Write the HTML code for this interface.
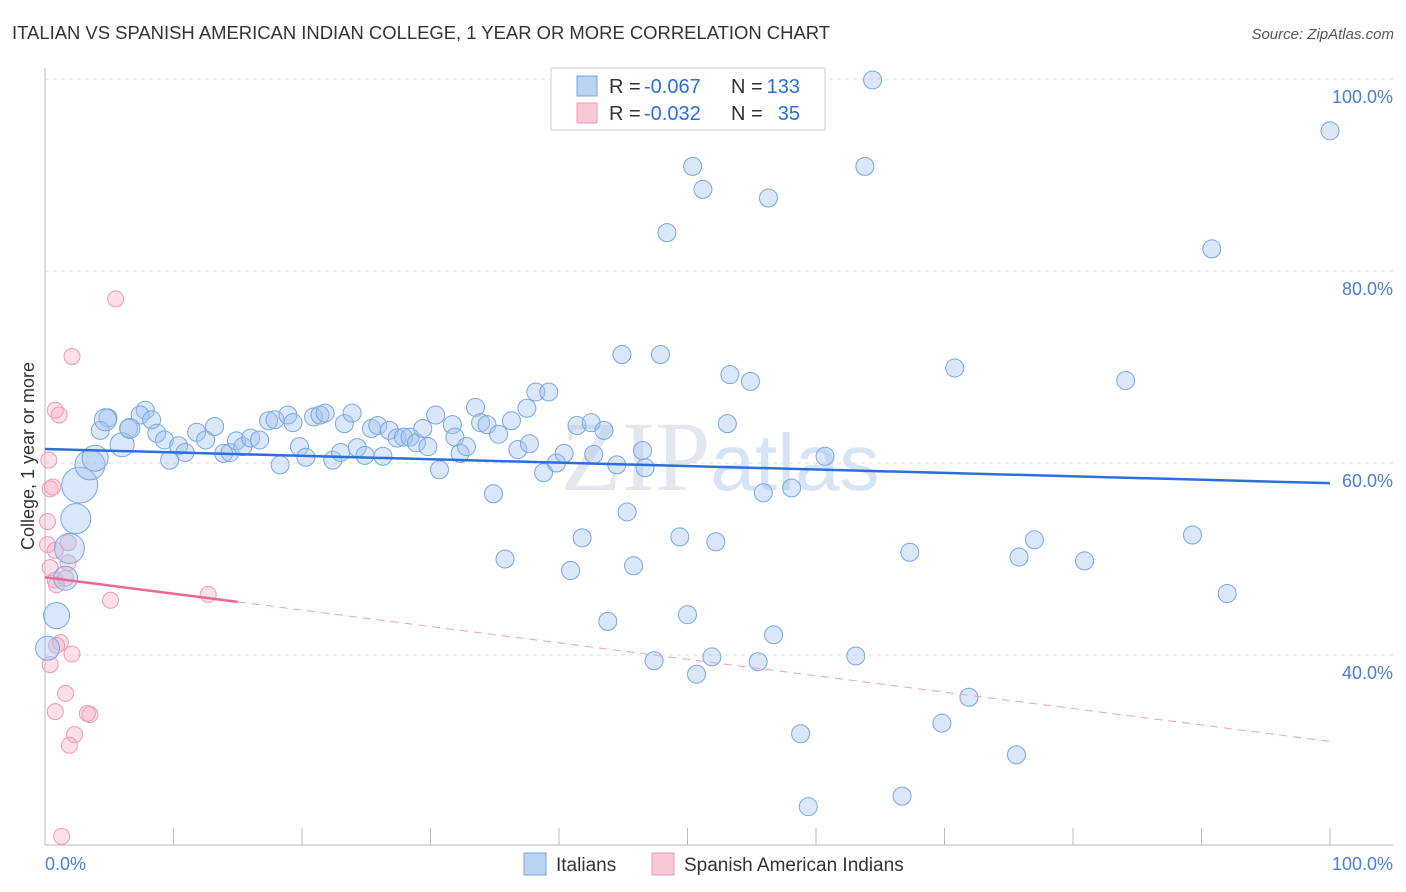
<!DOCTYPE html>
<html><head><meta charset="utf-8"><style>
body{margin:0;background:#fff;font-family:"Liberation Sans",sans-serif}
svg{display:block}
</style></head><body>
<svg id="chart" width="1406" height="892" xmlns="http://www.w3.org/2000/svg">
<text x="12" y="39" font-size="18" fill="#333" textLength="818" lengthAdjust="spacingAndGlyphs">ITALIAN VS SPANISH AMERICAN INDIAN COLLEGE, 1 YEAR OR MORE CORRELATION CHART</text>
<text x="1394" y="39" font-size="15" fill="#555" font-style="italic" text-anchor="end">Source: ZipAtlas.com</text>
<text x="720" y="490" font-size="100" fill="#e4e8ee" text-anchor="middle" font-family="Liberation Serif,serif">ZIP<tspan fill="#d6e4f6" font-family="Liberation Sans,sans-serif" font-size="80">atlas</tspan></text>
<g id="grid"></g>
<g id="marks"></g>
<text transform="translate(34,456) rotate(-90)" font-size="18" fill="#333" text-anchor="middle">College, 1 year or more</text>
<text x="45" y="870" font-size="18" fill="#4a7fd4">0.0%</text>
<text x="1393" y="870" font-size="18" fill="#4a7fd4" text-anchor="end">100.0%</text>
<g>
<rect x="551" y="68" width="274" height="62" fill="#fff" stroke="#ccc"/>
<rect x="577" y="76" width="20" height="20" fill="#b9d3f3" stroke="#7aa6e0"/>
<rect x="577" y="103" width="20" height="20" fill="#f9c8d6" stroke="#ee9ab5"/>
<text x="609" y="93" font-size="20" fill="#333">R =</text>
<text x="644" y="93" font-size="20" fill="#2a6fdb">-0.067</text>
<text x="731" y="93" font-size="20" fill="#333">N =</text>
<text x="800" y="93" font-size="20" fill="#2a6fdb" text-anchor="end">133</text>
<text x="609" y="120" font-size="20" fill="#333">R =</text>
<text x="644" y="120" font-size="20" fill="#2a6fdb">-0.032</text>
<text x="731" y="120" font-size="20" fill="#333">N =</text>
<text x="800" y="120" font-size="20" fill="#2a6fdb" text-anchor="end">35</text>
</g>
<g>
<rect x="524" y="853" width="22" height="22" fill="#b9d3f3" stroke="#7aa6e0"/>
<text x="556" y="871" font-size="19" fill="#333">Italians</text>
<rect x="652" y="853" width="22" height="22" fill="#f9c8d6" stroke="#ee9ab5"/>
<text x="684" y="871" font-size="19" fill="#333">Spanish American Indians</text>
</g>
</svg>
<script>
const blueX=[64.4,100,54.5,50.4,51.2,56.3,63.8,48.4,90.8,44.9,47.9,53.3,54.9,70.8,84.1,38.2,39.2,33.5,37.5,4.9,7.8,7.4,8.3,6.5,4.3,8.7,9.3,10.4,10.9,9.7,11.8,12.5,13.2,13.9,14.4,14.9,15.4,16.0,16.7,17.4,17.9,18.3,18.9,19.3,19.8,20.3,20.9,21.4,21.8,22.4,23.0,23.3,23.9,24.3,24.9,25.4,25.9,26.3,26.8,27.4,27.9,28.4,28.9,29.4,29.8,30.4,30.7,31.7,31.9,32.3,32.8,33.9,34.4,34.9,35.3,35.8,36.3,36.8,37.7,38.8,39.8,40.4,40.9,41.4,41.8,42.5,42.7,43.5,43.8,44.5,45.3,45.8,46.5,46.7,47.4,49.4,50.0,50.7,51.9,52.2,53.1,55.5,55.9,56.7,58.1,58.8,59.4,60.7,63.1,66.7,67.3,69.8,71.9,75.6,75.8,77.0,80.9,89.3,92.0,2.7,2.4,3.5,1.9,0.9,1.6,0.2,3.9,6.0,4.7,6.6];
const blueY=[99.9,94.6,97.1,90.9,88.5,87.6,90.9,84.0,82.3,71.3,71.3,69.2,68.5,69.9,68.6,67.4,67.4,65.8,65.7,64.7,65.5,65.0,64.5,63.6,63.4,63.1,62.4,61.8,61.1,60.3,63.2,62.4,63.8,61.0,61.1,62.3,61.7,62.6,62.4,64.4,64.5,59.8,65.0,64.2,61.7,60.6,64.8,65.0,65.2,60.3,61.1,64.1,65.2,61.6,60.8,63.6,63.9,60.7,63.4,62.6,62.7,62.7,62.1,63.6,61.7,65.0,59.3,64.0,62.7,61.0,61.7,64.2,64.0,56.8,63.0,50.0,64.4,61.4,62.0,59.0,60.0,61.0,48.8,63.9,52.2,64.2,60.9,63.4,43.5,59.8,54.9,49.3,61.3,59.5,39.4,52.3,44.2,38.0,39.8,51.8,64.1,39.3,56.9,42.1,57.4,31.8,24.2,60.7,39.9,25.3,50.7,32.9,35.6,29.6,50.2,52.0,49.8,52.5,46.4,57.7,54.2,59.8,51.1,44.1,48.0,40.7,60.5,61.9,64.5,63.6];
const blueR=[9,9,9,9,9,9,9,9,9,9,9,9,9,9,9,9,9,9,9,9,9,9,9,9,9,9,9,9,9,9,9,9,9,9,9,9,9,9,9,9,9,9,9,9,9,9,9,9,9,9,9,9,9,9,9,9,9,9,9,9,9,9,9,9,9,9,9,9,9,9,9,9,9,9,9,9,9,9,9,9,9,9,9,9,9,9,9,9,9,9,9,9,9,9,9,9,9,9,9,9,9,9,9,9,9,9,9,9,9,9,9,9,9,9,9,9,9,9,9,18,15,15,15,13,12,12,13,12,11,10];
const pinkX=[5.5,2.1,0.8,1.1,0.3,0.4,0.6,0.2,0.2,0.8,1.8,0.4,0.8,1.6,1.8,0.9,5.1,12.7,1.2,0.9,2.1,0.4,1.6,0.8,3.5,3.3,2.3,1.9,1.3];
const pinkY=[77.1,71.1,65.5,65.0,60.3,57.3,57.5,53.9,51.5,50.9,51.7,49.1,47.8,48.0,49.6,47.3,45.7,46.3,41.3,41.0,40.1,39.0,36.0,34.1,33.8,33.9,31.7,30.6,21.1];
const blueTrend=[61.46,57.9];
const pinkTrend=[48.1,31.0];
const yTicks=[40,60,80,100];
const xTicks=[0,10,20,30,40,50,60,70,80,90,100];
const xs=v=>45+v*12.85, ys=v=>1039-v*9.6;
const NS="http://www.w3.org/2000/svg";
function mk(tag,attrs,parent){const e=document.createElementNS(NS,tag);for(const k in attrs)e.setAttribute(k,attrs[k]);parent.appendChild(e);return e;}
const grid=document.getElementById('grid'),marks=document.getElementById('marks');
yTicks.forEach(t=>{
 const l=mk('line',{x1:45,x2:1393,y1:ys(t),y2:ys(t),stroke:'#ddd','stroke-dasharray':'4,4'},grid);
 
 
 const tx=mk('text',{x:1393,y:ys(t)+24,'font-size':18,fill:'#4a7fd4','text-anchor':'end'},grid);
 tx.textContent=t.toFixed(1)+'%';
 
 
});
const ax=mk('line',{x1:45,x2:45,y1:68,y2:845,stroke:'#bbb'},grid);


const bx=mk('line',{x1:45,x2:1393,y1:845,y2:845,stroke:'#bbb'},grid);


xTicks.forEach(t=>{
 const l=mk('line',{x1:xs(t),x2:xs(t),y1:828,y2:845,stroke:'#bbb'},grid);
 
 
});
pinkX.forEach((v,i)=>{
 const c=mk('circle',{cx:xs(v),cy:ys(pinkY[i]),r:8,fill:'rgba(246,178,200,0.4)',stroke:'#ee9ab5','stroke-width':1},marks);
 
 
});
blueX.forEach((v,i)=>{
 const c=mk('circle',{cx:xs(v),cy:ys(blueY[i]),r:blueR[i],fill:'rgba(160,196,240,0.4)',stroke:'#7aa6e0','stroke-width':1},marks);
 
 
});
const bt=mk('line',{x1:xs(0),y1:ys(blueTrend[0]),x2:xs(100),y2:ys(blueTrend[1]),stroke:'#2a6fdb','stroke-width':2.5},marks);


const pm=v=>pinkTrend[0]+(pinkTrend[1]-pinkTrend[0])*v/100;
const pt=mk('line',{x1:xs(0),y1:ys(pm(0)),x2:xs(15),y2:ys(pm(15)),stroke:'#e86896','stroke-width':2.5},marks);


const pd=mk('line',{x1:xs(15),y1:ys(pm(15)),x2:xs(100),y2:ys(pm(100)),stroke:'#eea0bb','stroke-width':1,'stroke-dasharray':'8,6'},marks);


</script>
</body></html>
